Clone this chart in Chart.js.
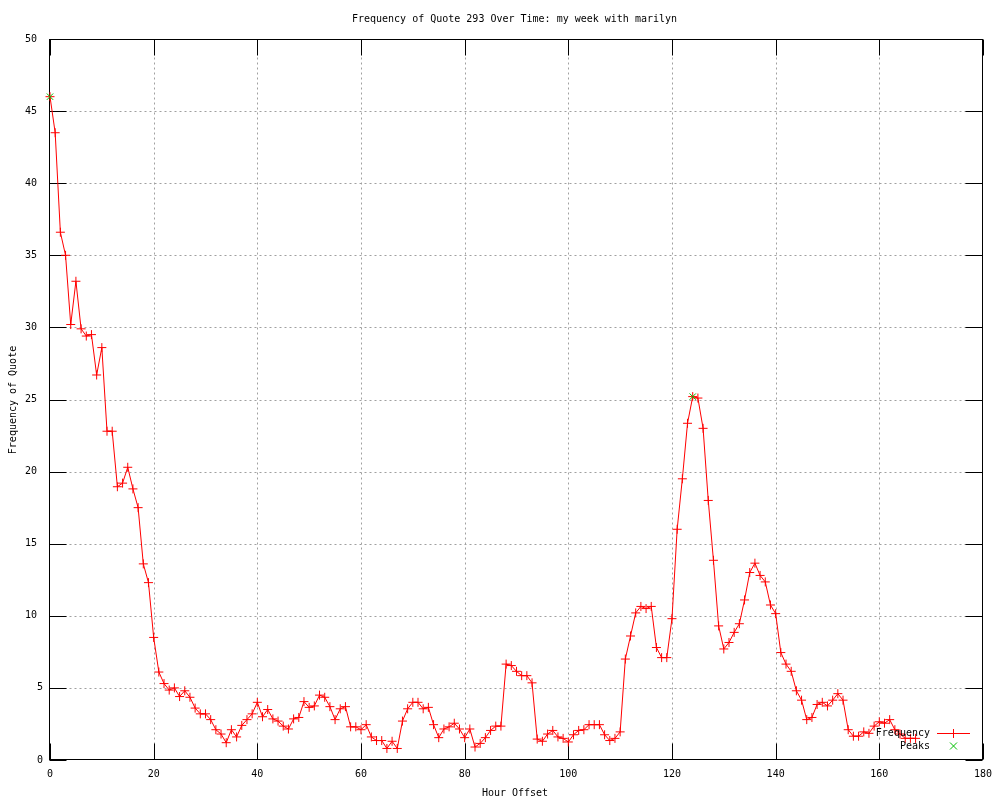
<!DOCTYPE html>
<html>
<head>
<meta charset="utf-8">
<title>Frequency of Quote 293 Over Time</title>
<script src="https://cdn.jsdelivr.net/npm/chart.js@4.4.0/dist/chart.umd.min.js"></script>
<style>
  html, body { margin: 0; padding: 0; background: #fff; }
  #wrap { width: 1000px; height: 800px; }
</style>
</head>
<body>
<div id="wrap"><canvas id="chart" width="1000" height="800"></canvas></div>
<script>
// one value per hour offset, 0..167
const frequencyValues = [
  46.0, 43.5, 36.6, 35.0, 30.2, 33.2, 29.9, 29.4, 29.5, 26.7,
  28.6, 22.8, 22.8, 18.95, 19.2, 20.3, 18.8, 17.5, 13.6, 12.3,
  8.5, 6.1, 5.3, 4.85, 5.0, 4.4, 4.8, 4.35, 3.6, 3.2,
  3.2, 2.8, 2.1, 1.8, 1.2, 2.1, 1.6, 2.4, 2.8, 3.2,
  4.0, 3.0, 3.5, 2.85, 2.7, 2.35, 2.15, 2.85, 2.95, 4.05,
  3.65, 3.75, 4.5, 4.35, 3.7, 2.8, 3.55, 3.7, 2.3, 2.3,
  2.1, 2.45, 1.6, 1.35, 1.35, 0.8, 1.3, 0.8, 2.7, 3.55,
  4.0, 4.0, 3.55, 3.65, 2.45, 1.55, 2.15, 2.3, 2.55, 2.15,
  1.55, 2.15, 0.9, 1.15, 1.55, 2.05, 2.35, 2.35, 6.65, 6.55,
  6.15, 5.85, 5.85, 5.35, 1.45, 1.3, 1.8, 2.05, 1.6, 1.5,
  1.25, 1.75, 2.05, 2.1, 2.45, 2.45, 2.45, 1.75, 1.35, 1.5,
  1.95, 7.0, 8.6, 10.2, 10.65, 10.5, 10.65, 7.8, 7.1, 7.1,
  9.8, 16.0, 19.5, 23.35, 25.2, 25.1, 23.0, 18.0, 13.85, 9.3,
  7.7, 8.15, 8.85, 9.45, 11.1, 13.0, 13.65, 12.8, 12.35, 10.75,
  10.15, 7.45, 6.65, 6.15, 4.8, 4.15, 2.8, 2.95, 3.85, 4.0,
  3.75, 4.15, 4.6, 4.15, 2.1, 1.65, 1.65, 1.95, 1.85, 2.35,
  2.65, 2.55, 2.8, 2.1, 1.8, 1.5, 1.5, 1.5
];
const peakHours = [0, 124];
const peakValues = [46.0, 25.2];

const xTickLabels = ['0', '20', '40', '60', '80', '100', '120', '140', '160', '180'];
const yTickLabels = ['0', '5', '10', '15', '20', '25', '30', '35', '40', '45', '50'];

const chartTitle = 'Frequency of Quote 293 Over Time: my week with marilyn';
const xAxisTitle = 'Hour Offset';
const yAxisTitle = 'Frequency of Quote';
const seriesNames = ['Frequency', 'Peaks'];

const monoFont = '10px "DejaVu Sans Mono", "Liberation Mono", monospace';
const lineRed = '#ff0000';
const peakGreen = '#00c000';

function crisp(v) {
  return Math.round(v) + 0.5;
}

// gnuplot-like frame: dashed grid, box border, inward tics on all four sides
const framePlugin = {
  id: 'frame',
  beforeDraw(chart) {
    const ctx = chart.ctx;
    ctx.save();
    ctx.fillStyle = '#ffffff';
    ctx.fillRect(0, 0, chart.width, chart.height);
    ctx.restore();
  },
  beforeDatasetsDraw(chart) {
    const { ctx, chartArea: a, scales } = chart;
    const left = crisp(a.left - 1), right = crisp(a.right - 1);
    const top = crisp(a.top), bottom = crisp(a.bottom - 1);
    const xVals = xTickLabels.map(Number);
    const yVals = yTickLabels.map(Number);

    ctx.save();
    ctx.lineWidth = 1;
    ctx.strokeStyle = '#a0a0a0';
    ctx.setLineDash([2, 3]);
    xVals.forEach((v) => {
      if (v === 0 || v === 180) return;
      const x = crisp(scales.x.getPixelForValue(v));
      ctx.beginPath();
      ctx.moveTo(x, bottom);
      ctx.lineTo(x, top);
      ctx.stroke();
    });
    yVals.forEach((v) => {
      if (v === 0 || v === 50) return;
      const y = crisp(scales.y.getPixelForValue(v));
      ctx.beginPath();
      ctx.moveTo(left, y);
      ctx.lineTo(right, y);
      ctx.stroke();
    });
    ctx.setLineDash([]);

    ctx.strokeStyle = '#000000';
    ctx.strokeRect(left, top, right - left, bottom - top);
    ctx.beginPath();
    xVals.forEach((v) => {
      const x = crisp(scales.x.getPixelForValue(v));
      ctx.moveTo(x, bottom);
      ctx.lineTo(x, bottom - 16);
      ctx.moveTo(x, top);
      ctx.lineTo(x, top + 16);
    });
    yVals.forEach((v) => {
      const y = crisp(scales.y.getPixelForValue(v));
      ctx.moveTo(left, y);
      ctx.lineTo(left + 17, y);
      ctx.moveTo(right, y);
      ctx.lineTo(right - 17, y);
    });
    ctx.stroke();
    ctx.restore();
  },
  afterDatasetsDraw(chart) {
    const ctx = chart.ctx;
    ctx.save();
    ctx.globalAlpha = 1;
    ctx.setLineDash([]);
    ctx.font = monoFont;
    ctx.fillStyle = '#000000';
    ctx.textBaseline = 'middle';

    ctx.textAlign = 'center';
    ctx.fillText(chartTitle, 514.5, 19);
    ctx.fillText(xAxisTitle, 515, 793);

    ctx.save();
    ctx.translate(13, 400);
    ctx.rotate(-Math.PI / 2);
    ctx.fillText(yAxisTitle, 0, 0);
    ctx.restore();

    // key, bottom right inside the plot
    ctx.textAlign = 'right';
    ctx.fillText(seriesNames[0], 930, 733);
    ctx.fillText(seriesNames[1], 930, 746);

    // red sample line with a plus, as solid pixels
    ctx.fillStyle = lineRed;
    ctx.fillRect(937, 733, 33, 1);
    ctx.fillRect(953, 729, 1, 9);

    ctx.lineWidth = 1;
    ctx.strokeStyle = peakGreen;
    ctx.beginPath();
    ctx.moveTo(950, 742.5);
    ctx.lineTo(957, 749.5);
    ctx.moveTo(957, 742.5);
    ctx.lineTo(950, 749.5);
    ctx.stroke();
    ctx.restore();
  },
};

const tickFont = { family: '"DejaVu Sans Mono", "Liberation Mono", monospace', size: 10 };

new Chart(document.getElementById('chart').getContext('2d'), {
  type: 'line',
  data: {
    datasets: [
      {
        label: seriesNames[1],
        data: peakHours.map((h, i) => ({ x: h, y: peakValues[i] })),
        showLine: false,
        pointStyle: 'crossRot',
        pointRadius: 4.5,
        pointBorderColor: peakGreen,
        pointBackgroundColor: peakGreen,
        pointBorderWidth: 1,
        clip: false,
        order: 0,
      },
      {
        label: seriesNames[0],
        data: frequencyValues.map((v, i) => ({ x: i, y: v })),
        borderColor: lineRed,
        borderWidth: 1,
        tension: 0,
        fill: false,
        pointStyle: 'cross',
        pointRadius: 4.5,
        pointBorderColor: lineRed,
        pointBackgroundColor: lineRed,
        pointBorderWidth: 1,
        clip: false,
        order: 1,
      },
    ],
  },
  options: {
    responsive: false,
    animation: false,
    devicePixelRatio: 1,
    layout: { padding: { top: 39, right: 17, left: 0, bottom: 0 } },
    plugins: {
      legend: { display: false },
      title: { display: false },
      tooltip: { enabled: false },
    },
    scales: {
      x: {
        type: 'linear',
        min: 0,
        max: 180,
        grid: { display: false, drawTicks: false },
        border: { display: false },
        afterFit: (scale) => { scale.height = 40; },
        ticks: {
          stepSize: 20,
          padding: 8,
          maxRotation: 0,
          color: '#000000',
          font: tickFont,
          callback: (value) => xTickLabels.find((l) => Number(l) === value) || '',
        },
      },
      y: {
        type: 'linear',
        min: 0,
        max: 50,
        grid: { display: false, drawTicks: false },
        border: { display: false },
        afterFit: (scale) => { scale.width = 50; },
        ticks: {
          stepSize: 5,
          padding: 7,
          color: '#000000',
          font: tickFont,
          callback: (value) => {
            const label = yTickLabels.find((l) => Number(l) === value) || '';
            return label + ' '.repeat(Math.max(0, label.length - 1));
          },
        },
      },
    },
  },
  plugins: [framePlugin],
});
</script>
</body>
</html>
